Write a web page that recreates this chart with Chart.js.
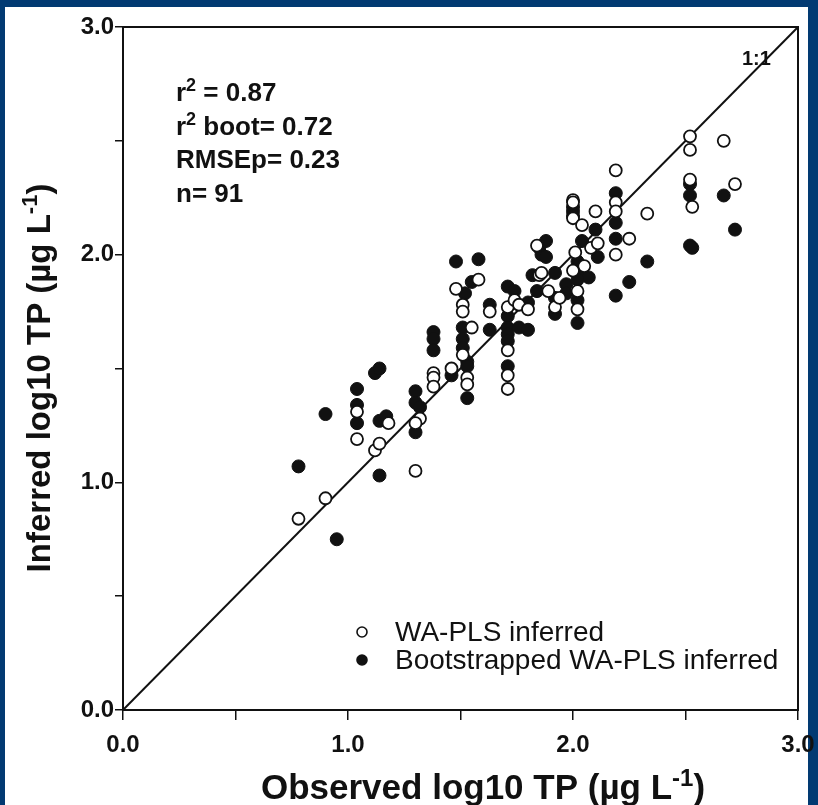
<!DOCTYPE html>
<html>
<head>
<meta charset="utf-8">
<script src="https://cdn.jsdelivr.net/npm/chart.js@4.4.0/dist/chart.umd.min.js"></script>
<style>
  html, body { margin: 0; padding: 0; background: #023a72; }
  #chart { display: block; }
</style>
</head>
<body>
<canvas id="chart" width="818" height="805"></canvas>
<script>
// WA-PLS inferred (open circles): observed / inferred log10 TP
const waplsObs = [0.78,0.90,1.04,1.04,1.12,1.14,1.18,1.30,1.32,1.30,1.38,1.38,1.38,1.46,1.48,1.58,1.51,1.51,1.51,1.55,
  1.53,1.53,1.63,1.71,1.71,1.71,1.71,1.74,1.76,1.80,1.85,1.92,1.86,2.00,2.00,2.00,2.10,2.04,2.08,2.01,
  2.02,2.02,2.19,2.19,2.19,2.19,2.33,2.25,2.52,2.52,2.67,2.52,2.53,2.72,1.84,1.89,1.94,2.11,2.05,2.00];
const waplsInf = [0.84,0.93,1.19,1.31,1.14,1.17,1.26,1.05,1.28,1.26,1.48,1.46,1.42,1.50,1.85,1.89,1.78,1.75,1.56,1.68,
  1.46,1.43,1.75,1.77,1.58,1.47,1.41,1.80,1.78,1.76,1.91,1.77,1.92,2.24,2.23,2.16,2.19,2.13,2.03,2.01,
  1.84,1.76,2.37,2.23,2.19,2.00,2.18,2.07,2.52,2.46,2.50,2.33,2.21,2.31,2.04,1.84,1.81,2.05,1.95,1.93];

// Bootstrapped WA-PLS inferred (filled circles)
const bootObs = [0.78,0.90,0.95,1.04,1.04,1.04,1.12,1.14,1.14,1.14,1.17,1.30,1.30,1.32,1.30,1.38,1.38,1.38,1.46,1.48,
  1.58,1.55,1.52,1.51,1.51,1.51,1.53,1.53,1.53,1.63,1.63,1.71,1.71,1.71,1.71,1.71,1.71,1.74,1.76,1.80,
  1.80,1.82,1.85,1.86,1.84,1.92,1.92,1.92,1.88,1.88,1.97,1.97,2.00,2.00,2.00,2.10,2.04,2.02,2.04,2.07,
  2.02,2.02,2.02,2.19,2.19,2.19,2.19,2.33,2.25,2.52,2.52,2.67,2.72,2.52,2.53,2.11];
const bootInf = [1.07,1.30,0.75,1.41,1.34,1.26,1.48,1.50,1.27,1.03,1.29,1.40,1.35,1.33,1.22,1.66,1.63,1.58,1.47,1.97,
  1.98,1.88,1.83,1.68,1.63,1.59,1.53,1.51,1.37,1.78,1.67,1.86,1.73,1.68,1.65,1.62,1.51,1.84,1.68,1.67,
  1.79,1.91,2.03,2.00,1.84,1.92,1.81,1.74,2.06,1.99,1.87,1.83,2.21,2.19,2.17,2.11,2.06,1.97,1.93,1.90,
  1.89,1.80,1.70,2.27,2.14,2.07,1.82,1.97,1.88,2.31,2.26,2.26,2.11,2.04,2.03,1.99];

const oneToOne = [0, 3];
const axisTicks = [0, 1, 2, 3];

const toPoints = (xs, ys) => xs.map((x, i) => ({x: x, y: ys[i]}));

const FONT = '"Liberation Sans", Arial, sans-serif';

// draws "base" + superscript + "tail" on one line
function supText(ctx, x, y, size, base, sup, tail) {
  ctx.font = 'bold ' + size + 'px ' + FONT;
  ctx.fillText(base, x, y);
  x += ctx.measureText(base).width;
  ctx.font = 'bold ' + Math.round(size * 0.68) + 'px ' + FONT;
  ctx.fillText(sup, x, y - size * 0.38);
  x += ctx.measureText(sup).width;
  ctx.font = 'bold ' + size + 'px ' + FONT;
  ctx.fillText(tail, x, y);
}
function supWidth(ctx, size, base, sup, tail) {
  ctx.font = 'bold ' + size + 'px ' + FONT;
  let w = ctx.measureText(base).width + ctx.measureText(tail).width;
  ctx.font = 'bold ' + Math.round(size * 0.68) + 'px ' + FONT;
  return w + ctx.measureText(sup).width;
}

const panel = {
  id: 'panel',
  beforeDraw(chart) {
    const ctx = chart.ctx;
    ctx.save();
    ctx.fillStyle = '#023a72';
    ctx.fillRect(0, 0, chart.width, chart.height);
    ctx.fillStyle = '#ffffff';
    ctx.fillRect(5, 7, 803, 798);
    ctx.restore();
  },
  afterDraw(chart) {
    const ctx = chart.ctx;
    ctx.save();
    ctx.fillStyle = '#111';
    ctx.textBaseline = 'alphabetic';
    ctx.textAlign = 'left';

    // stats block
    const sx = 176, sz = 26;
    supText(ctx, sx, 101, sz, 'r', '2', ' = 0.87');
    supText(ctx, sx, 135, sz, 'r', '2', ' boot= 0.72');
    ctx.font = 'bold ' + sz + 'px ' + FONT;
    ctx.fillText('RMSEp= 0.23', sx, 168);
    ctx.fillText('n= 91', sx, 202);

    // 1:1 label
    ctx.font = 'bold 20px ' + FONT;
    ctx.fillText('1:1', 742, 65);

    // x title
    let tsz = 35;
    let w = supWidth(ctx, tsz, 'Observed log10 TP (\u00b5g L', '-1', ')');
    supText(ctx, 483 - w / 2, 799, tsz, 'Observed log10 TP (\u00b5g L', '-1', ')');

    // y title
    tsz = 33;
    ctx.translate(50, 378);
    ctx.rotate(-Math.PI / 2);
    w = supWidth(ctx, tsz, 'Inferred log10 TP (\u00b5g L', '-1', ')');
    supText(ctx, -w / 2, 0, tsz, 'Inferred log10 TP (\u00b5g L', '-1', ')');
    ctx.setTransform(1, 0, 0, 1, 0, 0);

    // legend
    const items = [chart.data.datasets[0], chart.data.datasets[1]];
    const ly = [632, 660];
    items.forEach((ds, i) => {
      ctx.beginPath();
      ctx.arc(362, ly[i], 5, 0, Math.PI * 2);
      ctx.fillStyle = ds.backgroundColor;
      ctx.fill();
      ctx.lineWidth = 1.6;
      ctx.strokeStyle = ds.borderColor;
      ctx.stroke();
      ctx.fillStyle = '#111';
      ctx.font = '28px ' + FONT;
      ctx.textBaseline = 'middle';
      ctx.fillText(ds.label, 395, ly[i] + 1);
    });
    ctx.restore();
  }
};

const tickCb = v => axisTicks.includes(v) ? v.toFixed(1) : '';

new Chart(document.getElementById('chart'), {
  type: 'scatter',
  data: {
    datasets: [
      {
        label: 'WA-PLS inferred',
        data: toPoints(waplsObs, waplsInf),
        pointRadius: 6,
        pointBorderWidth: 1.8,
        borderColor: '#111',
        backgroundColor: '#ffffff',
        order: 0
      },
      {
        label: 'Bootstrapped WA-PLS inferred',
        data: toPoints(bootObs, bootInf),
        pointRadius: 6.5,
        pointBorderWidth: 1,
        borderColor: '#111',
        backgroundColor: '#111',
        order: 1
      },
      {
        type: 'line',
        label: '1:1',
        data: toPoints(oneToOne, oneToOne),
        borderColor: '#111',
        borderWidth: 2,
        pointRadius: 0,
        order: 2
      }
    ]
  },
  options: {
    responsive: false,
    devicePixelRatio: 1,
    animation: false,
    layout: { padding: 0 },
    plugins: { legend: { display: false }, tooltip: { enabled: false } },
    scales: {
      x: {
        type: 'linear', position: 'bottom', min: 0, max: 3,
        ticks: { stepSize: 0.5, autoSkip: false, maxRotation: 0, callback: tickCb,
                 color: '#111', font: { family: FONT, size: 24, weight: 'bold' }, padding: 11 },
        grid: { drawOnChartArea: false, drawTicks: true, tickLength: 10, color: '#111', lineWidth: 1.5 },
        border: { color: '#111', width: 2 },
        afterFit: s => { s.height = 95; s.paddingLeft = 0; s.paddingRight = 0; }
      },
      y: {
        type: 'linear', position: 'left', min: 0, max: 3,
        ticks: { stepSize: 0.5, autoSkip: false, callback: tickCb,
                 color: '#111', font: { family: FONT, size: 24, weight: 'bold' }, padding: 1 },
        grid: { drawOnChartArea: false, drawTicks: true, tickLength: 8, color: '#111', lineWidth: 1.5 },
        border: { color: '#111', width: 2 },
        afterFit: s => { s.width = 123; s.paddingTop = 0; s.paddingBottom = 0; }
      },
      xTop: {
        type: 'linear', position: 'top', min: 0, max: 3,
        ticks: { display: false },
        grid: { drawOnChartArea: false, drawTicks: false },
        border: { color: '#111', width: 2 },
        afterFit: s => { s.height = 27; s.paddingLeft = 0; s.paddingRight = 0; }
      },
      yRight: {
        type: 'linear', position: 'right', min: 0, max: 3,
        ticks: { display: false },
        grid: { drawOnChartArea: false, drawTicks: false },
        border: { color: '#111', width: 2 },
        afterFit: s => { s.width = 20; s.paddingTop = 0; s.paddingBottom = 0; }
      }
    }
  },
  plugins: [panel]
});
</script>
</body>
</html>
